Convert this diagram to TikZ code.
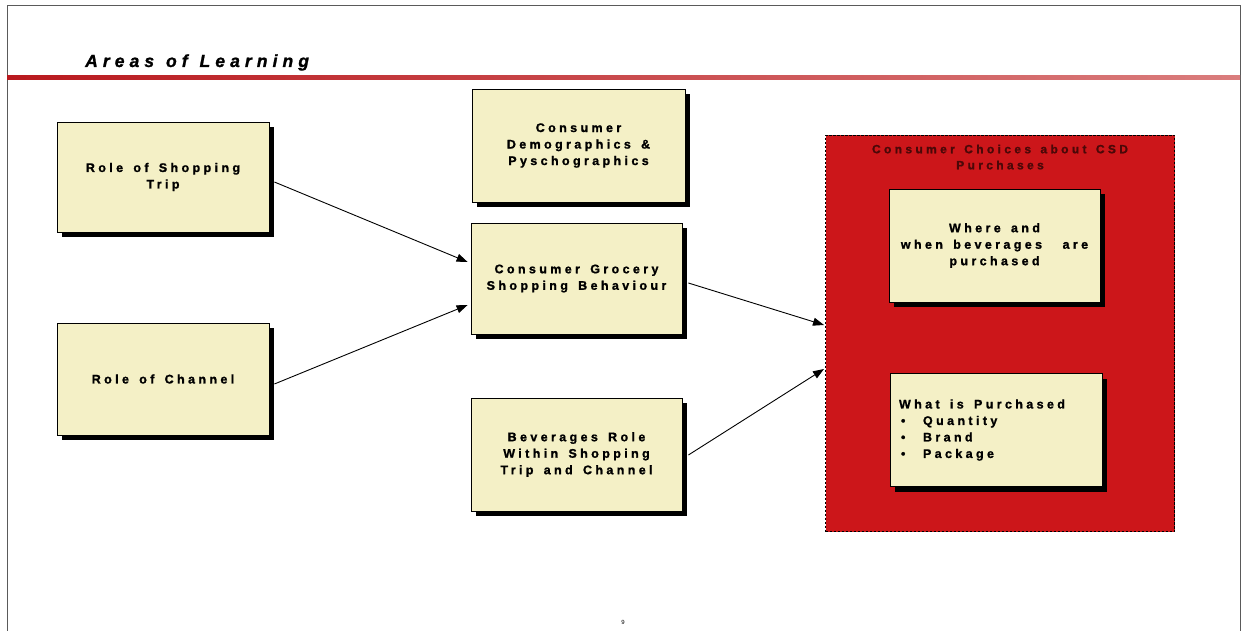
\documentclass[tikz,border=0pt]{standalone}
\usepackage{fontspec}
\setmainfont{Liberation Sans}
\newfontfamily\boxfont[LetterSpace=27,WordSpace=1.5,BoldFeatures={FakeBold=1.2}]{Liberation Sans}
\newfontfamily\redfont[LetterSpace=28,WordSpace=1.4,BoldFeatures={FakeBold=1.2}]{Liberation Sans}
\newfontfamily\titlefont[LetterSpace=29,WordSpace=1.2,BoldItalicFeatures={FakeBold=1.2}]{Liberation Sans}
\usetikzlibrary{shadows,arrows.meta}
\definecolor{boxyellow}{RGB}{244,240,198}
\definecolor{redbox}{RGB}{204,22,26}
\definecolor{maroonx}{RGB}{75,8,8}
\definecolor{framegray}{RGB}{90,90,90}
\definecolor{ruleleft}{RGB}{185,25,30}
\definecolor{ruleright}{RGB}{218,125,125}
\tikzset{
  card/.style={draw=black, line width=0.8pt, fill=boxyellow,
    drop shadow={shadow xshift=5pt, shadow yshift=-5pt, fill=black, opacity=1},
    align=flush center, inner sep=0pt,
    font=\boxfont\bfseries\fontsize{12.5}{16.5}\selectfont},
  arr/.style={-{Triangle[length=11pt,width=8pt]}, line width=0.9pt, black},
  framel/.style={draw=framegray, line width=0.8pt}
}
\begin{document}
\begin{tikzpicture}[x=1pt,y=-1pt]
\useasboundingbox (0,0) rectangle (1246,631);
% page frame
\coordinate (tl) at (7,5);
\coordinate (tr) at (1240,5);
\coordinate (bl) at (7,631);
\coordinate (br) at (1240,631);
\draw[framel] (bl) -- (tl) -- (tr) -- (br);
% title
\node[anchor=base west, inner sep=0pt, font=\titlefont\bfseries\itshape\fontsize{17.5}{20}\selectfont] (title) at (85,67) {Areas of Learning};
% red rule
\shade[left color=ruleleft, right color=ruleright] (7,76) rectangle (1240,80);
% red container
\node[draw=black, line width=1pt, dash pattern=on 2.5pt off 1.5pt, fill=redbox,
  minimum width=349pt, minimum height=396pt, inner sep=0pt] (red) at (1000,333.5) {};
\node[align=flush center, inner sep=0pt, text=maroonx,
  font=\redfont\bfseries\fontsize{12}{16}\selectfont] (redtitle) at (1000,157) {Consumer Choices about CSD\\Purchases};
% cards
\node[card, minimum width=212pt, minimum height=110pt] (trip) at (163,177) {Role of Shopping\\Trip};
\node[card, minimum width=212pt, minimum height=112pt] (chan) at (163,379) {Role of Channel};
\node[card, minimum width=213pt, minimum height=113pt] (demo) at (578.5,145.5) {Consumer\\Demographics \&\\Pyschographics};
\node[card, minimum width=211pt, minimum height=111pt] (groc) at (576.5,278.5) {Consumer Grocery\\Shopping Behaviour};
\node[card, minimum width=211pt, minimum height=113pt] (bev) at (576.5,454.5) {Beverages Role\\Within Shopping\\Trip and Channel};
\node[card, minimum width=211pt, minimum height=113pt] (where) at (994.5,245.5) {Where and\\when beverages\ \ are\\purchased};
\node[card, minimum width=212pt, minimum height=113pt, align=flush left, text width=194pt] (what) at (996,430)
  {What is Purchased\\\makebox[24pt][l]{\hspace{2pt}•}Quantity\\\makebox[24pt][l]{\hspace{2pt}•}Brand\\\makebox[24pt][l]{\hspace{2pt}•}Package};
% connectors
\draw[arr] ([xshift=5pt,yshift=-5pt]trip.east) -- ([xshift=-3pt,yshift=16.5pt]groc.west);
\draw[arr] ([xshift=5pt,yshift=-5pt]chan.east) -- ([xshift=-3pt,yshift=-26.5pt]groc.west);
\draw[arr] ([xshift=6pt,yshift=-4.5pt]groc.east) -- ([xshift=-1pt,yshift=8.5pt]red.west);
\draw[arr] ([xshift=6pt,yshift=-0.5pt]bev.east) -- ([xshift=-1pt,yshift=-35.5pt]red.west);
% page number
\node[inner sep=0pt, font=\fontsize{6}{7}\selectfont] (pg) at (623,622) {9};
\end{tikzpicture}
\end{document}
